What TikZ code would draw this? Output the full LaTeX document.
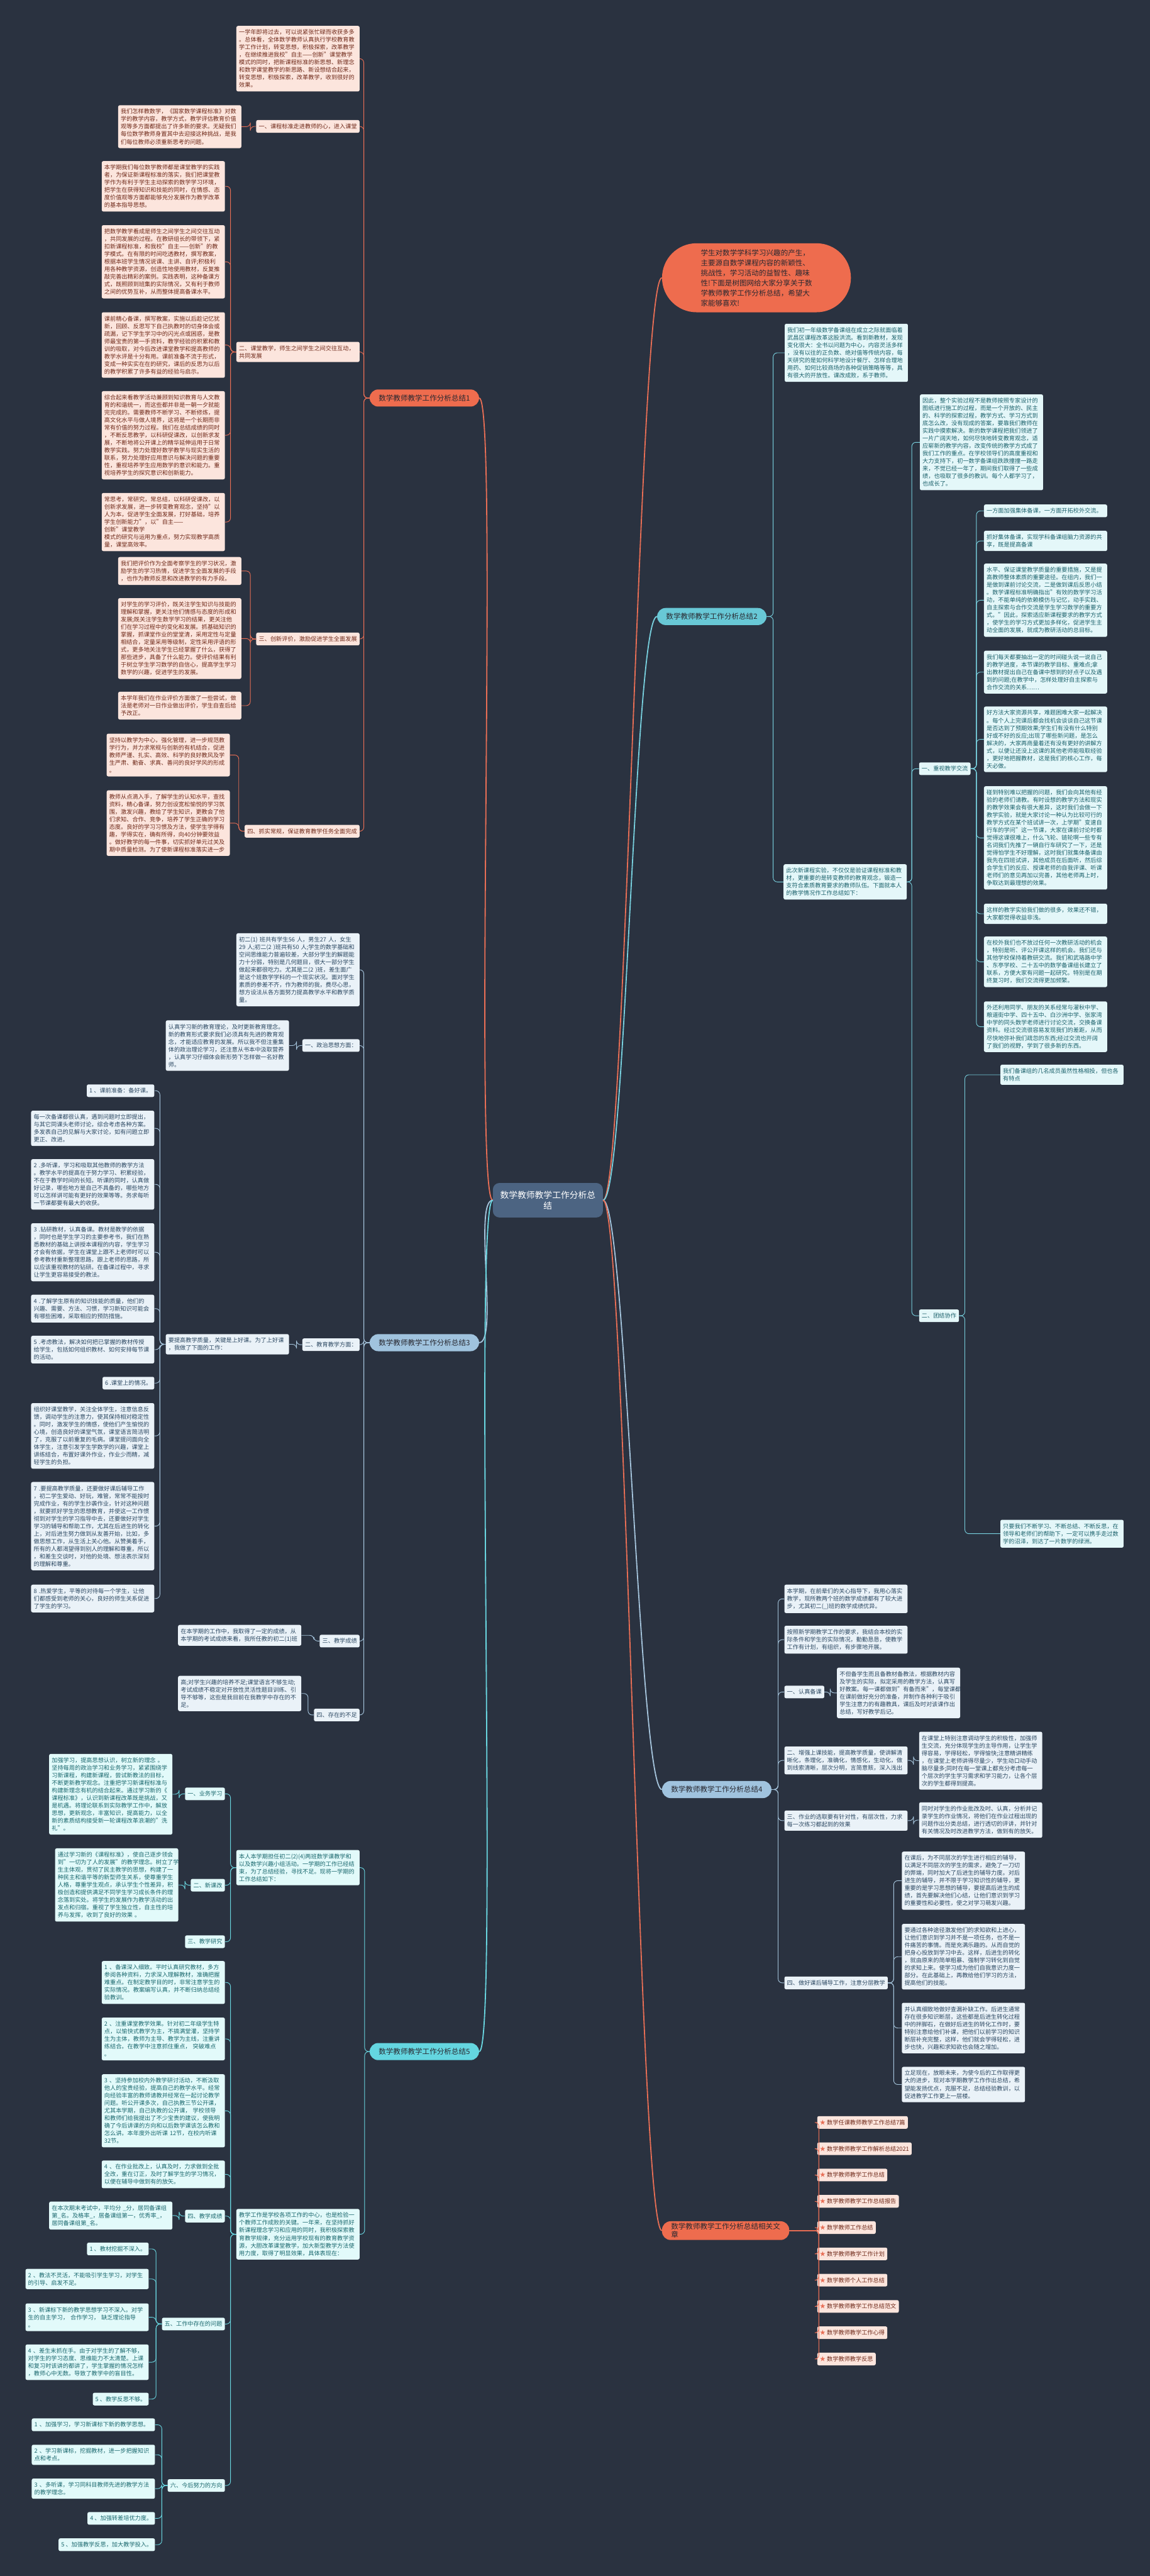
\documentclass[tikz,border=0pt]{standalone}
\usepackage{fontspec}
\setmainfont{Noto Sans CJK SC}
\definecolor{bg}{RGB}{42,50,64}
\definecolor{core}{RGB}{76,100,130}
\definecolor{redln}{RGB}{232,110,85}
\definecolor{redfill}{RGB}{238,108,78}
\definecolor{pkfill}{RGB}{252,229,221}
\definecolor{pktext}{RGB}{112,42,26}
\definecolor{tealln}{RGB}{120,208,222}
\definecolor{tealfill}{RGB}{228,247,249}
\definecolor{tealtext}{RGB}{28,98,108}
\definecolor{tealtitle}{RGB}{104,200,214}
\definecolor{steelln}{RGB}{165,196,220}
\definecolor{steelfill}{RGB}{234,242,248}
\definecolor{steeltext}{RGB}{44,72,98}
\definecolor{steeltitle}{RGB}{160,195,222}
\definecolor{cyanln}{RGB}{105,214,224}
\definecolor{cyanfill}{RGB}{226,250,250}
\definecolor{cyantext}{RGB}{26,104,110}
\definecolor{cyantitle}{RGB}{100,214,224}
\definecolor{titletext}{RGB}{40,40,48}
\tikzset{
  box/.style={rounded corners=1mm, align=left, inner xsep=1.6mm, inner ysep=2.2mm,
    font=\fontsize{10}{13.1}\selectfont},
  wide/.style={text width=71.8mm},
  L/.style={anchor=north east},
  R/.style={anchor=north west},
  pk/.style={box, fill=pkfill, text=pktext},
  tl/.style={box, fill=tealfill, text=tealtext},
  st/.style={box, fill=steelfill, text=steeltext},
  cy/.style={box, fill=cyanfill, text=cyantext},
  topic/.style={rounded corners=5.2mm, minimum height=10.4mm, inner xsep=5.5mm,
    font=\fontsize{12.6}{14}\selectfont, text=titletext, anchor=north west},
  ln/.style={line width=0.35mm, rounded corners=2.5mm},
  trunk/.style={line width=0.7mm},
}
\begin{document}
\begin{tikzpicture}[x=1mm, y=-1mm]
\fill[bg] (0,0) rectangle (700,1568);
\useasboundingbox (0,0) rectangle (700,1568);

% centre
\node[fill=core, text=white, rounded corners=4mm, align=center, minimum width=67mm,
  minimum height=21mm, font=\fontsize{15}{19}\selectfont, anchor=north west] (core) at (300,720)
  {数学教师教学工作分析总\\结};

% intro
\node[fill=redfill, rounded corners=21mm, minimum width=115mm, minimum height=42mm, align=left,
  text=titletext, font=\fontsize{12.6}{17.4}\selectfont, anchor=north west] (intro) at (403,148)
  {学生对数学学科学习兴趣的产生，\\主要源自数学课程内容的新颖性、\\挑战性，学习活动的益智性、趣味\\性!下面是树图网给大家分享关于数\\学教师教学工作分析总结，希望大\\家能够喜欢!};

% ---------- 1 ----------
\node[topic, fill=redfill] (t1) at (225,237) {数学教师教学工作分析总结1};
\node[pk, wide, L] (x0) at (219,15.7) {一学年即将过去，可以说紧张忙碌而收获多多\\。总体看，全体数学教师认真执行学校教育教\\学工作计划，转变思想，积极探索，改革教学\\，在继续推进我校"自主——创新"课堂教学\\模式的同时，把新课程标准的新思想、新理念\\和数学课堂教学的新思路、新设想结合起来，\\转变思想，积极探索，改革教学，收到很好的\\效果。};
\node[pk, L] (xA) at (219,73) {一、课程标准走进教师的心，进入课堂};
\node[pk, wide, L] (xA1) at (147,64) {我们怎样教数学，《国家数学课程标准》对数\\学的教学内容，教学方式，教学评估教育价值\\观等多方面都提出了许多新的要求。无疑我们\\每位数学教师身置其中去迎接这种挑战，是我\\们每位教师必须重新思考的问题。};
\node[pk, wide, L] (xB) at (219,208) {二、课堂教学，师生之间学生之间交往互动，\\共同发展};
\node[pk, wide, L] (xB1) at (137,98) {本学期我们每位数学教师都是课堂教学的实践\\者，为保证新课程标准的落实，我们把课堂教\\学作为有利于学生主动探索的数学学习环境，\\把学生在获得知识和技能的同时，在情感、态\\度价值观等方面都能够充分发展作为教学改革\\的基本指导思想。};
\node[pk, wide, L] (xB2) at (137,137) {把数学教学看成是师生之间学生之间交往互动\\，共同发展的过程。在教研组长的带领下，紧\\扣新课程标准，和我校"自主——创新"的教\\学模式。在有限的时间吃透教材，撰写教案，\\根据本班学生情况说课、主讲、自评;积极利\\用各种教学资源，创造性地使用教材，反复推\\敲完善出精彩的案例。实践表明，这种备课方\\式，既照顾到班集的实际情况，又有利于教师\\之间的优势互补，从而整体提高备课水平。};
\node[pk, wide, L] (xB3) at (137,190) {课前精心备课，撰写教案，实施以后趁记忆犹\\新，回顾、反思写下自己执教时的切身体会或\\疏漏，记下学生学习中的闪光点或困惑，是教\\师最宝贵的第一手资料，教学经验的积累和教\\训的吸取，对今后改进课堂教学和提高教师的\\教学水评是十分有用。课前准备不流于形式，\\变成一种实实在在的研究，课后的反思为以后\\的教学积累了许多有益的经验与启示。};
\node[pk, wide, L] (xB4) at (137,238) {综合起来看教学活动兼顾到知识教育与人文教\\育的和谐统一，而这些都并非是一朝一夕就能\\完完成的。需要教师不断学习、不断修炼，提\\高文化水平与做人境界，这将是一个长期而非\\常有价值的努力过程。我们在总结成绩的同时\\，不断反思教学，以科研促课改，以创新求发\\展，不断地将公开课上的精华延伸运用于日常\\教学实践。努力处理好数学教学与现实生活的\\联系，努力处理好应用意识与解决问题的重要\\性，重视培养学生应用数学的意识和能力。重\\视培养学生的探究意识和创新能力。};
\node[pk, wide, L] (xB5) at (137,300) {常思考，常研究，常总结，以科研促课改，以\\创新求发展，进一步转变教育观念，坚持"以\\人为本，促进学生全面发展，打好基础，培养\\学生创新能力"，以"自主——创新"课堂教学\\模式的研究与运用为重点，努力实现教学高质\\量，课堂高效率。};
\node[pk, L] (xC) at (219,385) {三、创新评价，激励促进学生全面发展};
\node[pk, wide, L] (xC1) at (147,339) {我们把评价作为全面考察学生的学习状况，激\\励学生的学习热情，促进学生全面发展的手段\\，也作为教师反思和改进教学的有力手段。};
\node[pk, wide, L] (xC2) at (147,364) {对学生的学习评价，既关注学生知识与技能的\\理解和掌握，更关注他们情感与态度的形成和\\发展;既关注学生数学学习的结果，更关注他\\们在学习过程中的变化和发展。抓基础知识的\\掌握，抓课堂作业的堂堂清，采用定性与定量\\相结合，定量采用等级制，定性采用评语的形\\式，更多地关注学生已经掌握了什么，获得了\\那些进步，具备了什么能力。使评价结果有利\\于树立学生学习数学的自信心，提高学生学习\\数学的兴趣，促进学生的发展。};
\node[pk, wide, L] (xC3) at (147,421) {本学年我们在作业评价方面做了一些尝试，做\\法是老师对一日作业做出评价，学生自查后给\\予改正。};
\node[pk, L] (xD) at (219,502) {四、抓实常规，保证教育教学任务全面完成};
\node[pk, wide, L] (xD1) at (140,446.5) {坚持以教学为中心，强化管理，进一步规范教\\学行为，并力求常规与创新的有机结合，促进\\教师严谨、扎实、高效、科学的良好教风及学\\生严肃、勤奋、求真、善问的良好学风的形成\\。};
\node[pk, wide, L] (xD2) at (140,481) {教师从点滴入手，了解学生的认知水平，查找\\资料，精心备课，努力创设宽松愉悦的学习氛\\围，激发兴趣，教给了学生知识，更教会了他\\们求知、合作、竞争，培养了学生正确的学习\\态度。良好的学习习惯及方法，使学生学得有\\趣，学得实在，确有所得，向40分钟要效益\\。做好教学的每一件事，切实抓好单元过关及\\期中质量检测。为了使新课程标准落实进一步};
\draw[trunk, redln] (core.west) .. controls +(-12,0) and +(12,0) .. (t1.east);
\foreach \n in {x0,xA,xB,xC,xD} \draw[ln, redln] (t1.west) -- ++(-3.5,0) |- (\n.east);
\draw[ln, redln] (xA.west) -- ++(-3.5,0) |- (xA1.east);
\foreach \n in {xB1,xB2,xB3,xB4,xB5} \draw[ln, redln] (xB.west) -- ++(-3.5,0) |- (\n.east);
\foreach \n in {xC1,xC2,xC3} \draw[ln, redln] (xC.west) -- ++(-3.5,0) |- (\n.east);
\foreach \n in {xD1,xD2} \draw[ln, redln] (xD.west) -- ++(-3.5,0) |- (\n.east);
\draw[trunk, redln] (core.east) .. controls +(14,0) and +(-14,0) .. (intro.west);

% ---------- 2 ----------
\node[topic, fill=tealtitle] (t2) at (400,370) {数学教师教学工作分析总结2};
\node[tl, wide, R] (y0) at (477.7,197) {我们初一年级数学备课组在成立之际就面临着\\武昌区课程改革这股洪流。看到新教材，发现\\变化很大：全书以问题为中心，内容灵活多样\\，没有以往的正负数、绝对值等传统内容，每\\天研究的是如何科学地设计餐厅、怎样合理地\\用药、如何比较商场的各种促销策略等等，具\\有很大的开放性。课改成败，系于教师。};
\node[tl, wide, R] (yP) at (477,526) {此次新课程实验，不仅仅是验证课程标准和教\\材，更重要的是转变教师的教育观念，锻造一\\支符合素质教育要求的教师队伍。下面就本人\\的教学情况作工作总结如下：};
\node[tl, wide, R] (yP0) at (560,240) {因此，整个实验过程不是教师按照专家设计的\\图纸进行施工的过程，而是一个开放的、民主\\的、科学的探索过程，教学方式、学习方式到\\底怎么改，没有现成的答案，要靠我们教师在\\实践中摸索解决。新的数学课程把我们领进了\\一片广阔天地，如何尽快地转变教育观念，适\\应崭新的教学内容，改变传统的教学方式成了\\我们工作的重点。在学校领导们的高度重视和\\大力支持下，初一数学备课组跌跌撞撞一路走\\来，不觉已经一年了，期间我们取得了一些成\\绩，也吸取了很多的教训。每个人都学习了，\\也成长了。};
\node[tl, R] (yA) at (559.5,464) {一、重视教学交流};
\node[tl, wide, R] (yA1) at (599,307) {一方面加强集体备课，一方面开拓校外交流。};
\node[tl, wide, R] (yA2) at (599,323) {抓好集体备课，实现学科备课组脑力资源的共\\享，既是提高备课};
\node[tl, wide, R] (yA3) at (599,343) {水平、保证课堂教学质量的重要措施，又是提\\高教师整体素质的重要途径。在组内，我们一\\是做到课前讨论交流，二是做到课后反思小结\\。数学课程标准明确指出"有效的数学学习活\\动，不能单纯的依赖模仿与记忆，动手实践、\\自主探索与合作交流是学生学习数学的重要方\\式。"因此，探索适应新课程要求的教学方式\\，使学生的学习方式更加多样化，促进学生主\\动全面的发展，就成为教研活动的总目标。};
\node[tl, wide, R] (yA4) at (599,396) {我们每天都要抽出一定的时间碰头说一说自己\\的教学进度，本节课的教学目标、重难点;拿\\出教材提出自己在备课中想到的好点子以及遇\\到的问题;在教学中，怎样处理好自主探索与\\合作交流的关系……};
\node[tl, wide, R] (yA5) at (599,430) {好方法大家资源共享，难题困难大家一起解决\\。每个人上完课后都会找机会谈谈自己这节课\\是否达到了预期效果;学生们有没有什么特别\\好或不好的反应;出现了哪些新问题，是怎么\\解决的，大家再商量着还有没有更好的讲解方\\式，以便让还没上这课的其他老师能吸取经验\\，更好地把握教材，这是我们的核心工作，每\\天必做。};
\node[tl, wide, R] (yA6) at (599,478.5) {碰到特别难以把握的问题，我们会向其他有经\\验的老师们请教。有时设想的教学方法和现实\\的教学效果会有很大差异，这时我们会做一下\\教学实验，就是大家讨论一种认为比较可行的\\教学方式在某个班试讲一次，上学期"变速自\\行车的学问"这一节课，大家在课前讨论时都\\觉得这课很难上，什么飞轮、链轮啊一些专有\\名词我们先推了一辆自行车研究了一下，还是\\觉得怕学生不好理解，这时我们就集体备课由\\我先在四班试讲，其他成员在后面听，然后综\\合学生们的反应、授课老师的自我评课、听课\\老师们的意见再加以完善，其他老师再上时，\\争取达到最理想的效果。};
\node[tl, wide, R] (yA7) at (599,550) {这样的教学实验我们做的很多，效果还不错，\\大家都觉得收益非浅。};
\node[tl, wide, R] (yA8) at (599,570) {在校外我们也不放过任何一次教研活动的机会\\，特别是听、评公开课这样的机会。我们还与\\其他学校保持着教研交流。我们和武珞路中学\\、东亭学校、二十五中的数学备课组长建立了\\联系，方便大家有问题一起研究。特别是在期\\终复习时，我们交流得更加频繁。};
\node[tl, wide, R] (yA9) at (599,609.5) {外还利用同学、朋友的关系经常与濯秋中学、\\粮道街中学、四十五中、白沙洲中学、张家湾\\中学的同头数学老师进行讨论交流，交换备课\\资料。经过交流很容易发现我们的差距，从而\\尽快地弥补我们疏忽的东西;经过交流也开阔\\了我们的视野，学到了很多新的东西。};
\node[tl, R] (yB) at (559.5,797) {二、团结协作};
\node[tl, wide, R] (yB1) at (609,648) {我们备课组的几名成员虽然性格相投，但也各\\有特点};
\node[tl, wide, R] (yB2) at (609,925) {只要我们不断学习、不断总结、不断反思，在\\领导和老师们的帮助下，一定可以携手走过数\\学的沼泽，到达了一片数学的绿洲。};
\draw[trunk, tealln] (core.east) .. controls +(14,0) and +(-14,0) .. (t2.west);
\foreach \n in {y0,yP} \draw[ln, tealln] (t2.east) -- ++(4,0) |- (\n.west);
\foreach \n in {yP0,yA,yB} \draw[ln, tealln] (yP.east) -- ++(3,0) |- (\n.west);
\foreach \n in {yA1,yA2,yA3,yA4,yA5,yA6,yA7,yA8,yA9} \draw[ln, tealln] (yA.east) -- ++(3.5,0) |- (\n.west);
\foreach \n in {yB1,yB2} \draw[ln, tealln] (yB.east) -- ++(3.5,0) |- (\n.west);

% ---------- 3 ----------
\node[topic, fill=steeltitle] (t3) at (225,812) {数学教师教学工作分析总结3};
\node[st, wide, L] (z0) at (219,568) {初二(1) 班共有学生56 人，男生27 人，女生\\29 人;初二(2 )班共有50 人;学生的数学基础和\\空间思维能力普遍较差，大部分学生的解题能\\力十分弱，特别是几何题目，很大一部分学生\\做起来都很吃力。尤其是二(2 )班，差生面广\\是这个班数学学科的一个现实状况。面对学生\\素质的参差不齐，作为教师的我，费尽心思，\\想方设法从各方面努力提高教学水平和教学质\\量。};
\node[st, L] (zA) at (219,632.5) {一、政治思想方面：};
\node[st, wide, L] (zA1) at (176,621) {认真学习新的教育理论，及时更新教育理念。\\新的教育形式要求我们必须具有先进的教育观\\念，才能适应教育的发展。所以我不但注重集\\体的政治理论学习，还注意从书本中汲取营养\\，认真学习仔细体会新形势下怎样做一名好教\\师。};
\node[st, L] (zB) at (219,814.6) {二、教育教学方面：};
\node[st, wide, L] (zB1) at (176,812) {要提高教学质量，关键是上好课。为了上好课\\，我做了下面的工作：};
\node[st, L] (zB1a) at (94,660) {1 、课前准备：备好课。};
\node[st, wide, L] (zB1b) at (94,676) {每一次备课都很认真，遇到问题时立即提出，\\与其它同课头老师讨论，综合考虑各种方案。\\多发表自己的见解与大家讨论，如有问题立即\\更正、改进。};
\node[st, wide, L] (zB1c) at (94,705.5) {2 .多听课，学习和吸取其他教师的教学方法\\。教学水平的提高在于努力学习、积累经验，\\不在于教学时间的长短。听课的同时，认真做\\好记录，哪些地方是自己不具备的，哪些地方\\可以怎样讲可能有更好的效果等等。务求每听\\一节课都要有最大的收获。};
\node[st, wide, L] (zB1d) at (94,744.5) {3 .钻研教材，认真备课。教材是教学的依据\\，同时也是学生学习的主要参考书，我们在熟\\悉教材的基础上讲授本课程的内容，学生学习\\才会有依据，学生在课堂上跟不上老师时可以\\参考教材重新整理思路，跟上老师的思路，所\\以应该重视教材的钻研。在备课过程中，寻求\\让学生更容易接受的教法。};
\node[st, wide, L] (zB1e) at (94,788) {4 .了解学生原有的知识技能的质量，他们的\\兴趣、需要、方法、习惯，学习新知识可能会\\有哪些困难，采取相应的预防措施。};
\node[st, wide, L] (zB1f) at (94,813) {5 .考虑教法，解决如何把已掌握的教材传授\\给学生，包括如何组织教材、如何安排每节课\\的活动。};
\node[st, L] (zB1g) at (94,838) {6 .课堂上的情况。};
\node[st, wide, L] (zB1h) at (94,854) {组织好课堂教学，关注全体学生，注意信息反\\馈，调动学生的注意力，使其保持相对稳定性\\。同时，激发学生的情感，使他们产生愉悦的\\心境，创造良好的课堂气氛，课堂语言简洁明\\了，克服了以前重复的毛病。课堂提问面向全\\体学生，注意引发学生学数学的兴趣，课堂上\\讲练结合，布置好课外作业，作业少而精，减\\轻学生的负担。};
\node[st, wide, L] (zB1i) at (94,902) {7 .要提高教学质量，还要做好课后辅导工作\\，初二学生爱动、好玩，难管，常常不能按时\\完成作业，有的学生抄袭作业，针对这种问题\\，就要抓好学生的思想教育，并使这一工作惯\\彻到对学生的学习指导中去，还要做好对学生\\学习的辅导和帮助工作，尤其在后进生的转化\\上，对后进生努力做到从友善开始，比如，多\\做思想工作，从生活上关心他。从赞美着手，\\所有的人都渴望得到别人的理解和尊重，所以\\，和差生交谈时，对他的处境、想法表示深刻\\的理解和尊重。};
\node[st, wide, L] (zB1j) at (94,964.5) {8 .热爱学生，平等的对待每一个学生，让他\\们都感受到老师的关心，良好的师生关系促进\\了学生的学习。};
\node[st, L] (zC) at (219,995) {三、教学成绩};
\node[st, wide, L] (zC1) at (183.5,989) {在本学期的工作中，我取得了一定的成绩，从\\本学期的考试成绩来看，我所任教的初二(1)班};
\node[st, L] (zD) at (219,1040) {四、存在的不足};
\node[st, wide, L] (zD1) at (183.5,1020) {高;对学生兴趣的培养不足;课堂语言不够生动;\\考试成绩不稳定对开放性灵活性题目训练、引\\导不够等，这些是我目前在我教学中存在的不\\足。};
\draw[trunk, steelln] (core.west) .. controls +(-12,0) and +(12,0) .. (t3.east);
\foreach \n in {z0,zA,zB,zC,zD} \draw[ln, steelln] (t3.west) -- ++(-3.5,0) |- (\n.east);
\draw[ln, steelln] (zA.west) -- ++(-3.5,0) |- (zA1.east);
\draw[ln, steelln] (zB.west) -- ++(-3.5,0) |- (zB1.east);
\foreach \n in {zB1a,zB1b,zB1c,zB1d,zB1e,zB1f,zB1g,zB1h,zB1i,zB1j} \draw[ln, steelln] (zB1.west) -- ++(-3.5,0) |- (\n.east);
\draw[ln, steelln] (zC.west) -- ++(-3.5,0) |- (zC1.east);
\draw[ln, steelln] (zD.west) -- ++(-3.5,0) |- (zD1.east);

% ---------- 4 ----------
\node[topic, fill=steeltitle] (t4) at (403,1084) {数学教师教学工作分析总结4};
\node[st, wide, R] (w1) at (477.5,964.5) {本学期，在前辈们的关心指导下，我用心落实\\教学，现所教两个班的数学成绩都有了较大进\\步，尤其初二(\_)班的数学成绩优异。};
\node[st, wide, R] (w2) at (477.5,989.5) {按照新学期教学工作的要求，我结合本校的实\\际条件和学生的实际情况，勤勤恳恳，使教学\\工作有计划，有组织，有步骤地开展。};
\node[st, R] (wA) at (477.5,1026) {一、认真备课};
\node[st, wide, R] (wA1) at (509.5,1015) {不但备学生而且备教材备教法，根据教材内容\\及学生的实际，拟定采用的教学方法，认真写\\好教案。每一课都做到"有备而来"，每堂课都\\在课前做好充分的准备，并制作各种利于吸引\\学生注意力的有趣教具，课后及时对该课作出\\总结，写好教学后记。};
\node[st, wide, R] (wB) at (477.5,1063) {二、增强上课技能，提高教学质量，使讲解清\\晰化，条理化，准确化，情感化，生动化，做\\到线索清晰，层次分明，言简意赅，深入浅出};
\node[st, wide, R] (wB1) at (559.5,1054) {在课堂上特别注意调动学生的积极性，加强师\\生交流，充分体现学生的主导作用，让学生学\\得容易，学得轻松，学得愉快;注意精讲精练\\，在课堂上老师讲得尽量少，学生动口动手动\\脑尽量多;同时在每一堂课上都充分考虑每一\\个层次的学生学习需求和学习能力，让各个层\\次的学生都得到提高。};
\node[st, wide, R] (wC) at (477.5,1102) {三、作业的选取要有针对性，有层次性，力求\\每一次练习都起到的效果};
\node[st, wide, R] (wC1) at (559.5,1097) {同时对学生的作业批改及时、认真，分析并记\\录学生的作业情况，将他们在作业过程出现的\\问题作出分类总结，进行透切的评讲，并针对\\有关情况及时改进教学方法，做到有的放矢。};
\node[st, R] (wD) at (477.5,1203) {四、做好课后辅导工作，注意分层教学};
\node[st, wide, R] (wD1) at (549,1127) {在课后，为不同层次的学生进行相应的辅导，\\以满足不同层次的学生的需求，避免了一刀切\\的弊端，同时加大了后进生的辅导力度。对后\\进生的辅导，并不限于学习知识性的辅导，更\\重要的是学习思想的辅导，要提高后进生的成\\绩，首先要解决他们心结，让他们意识到学习\\的重要性和必要性，使之对学习萌发兴趣。};
\node[st, wide, R] (wD2) at (549,1171) {要通过各种途径激发他们的求知欲和上进心，\\让他们意识到学习并不是一项任务，也不是一\\件痛苦的事情。而是充满乐趣的。从而自觉的\\把身心投放到学习中去。这样，后进生的转化\\，就由原来的简单粗暴、强制学习转化到自觉\\的求知上来。使学习成为他们自我意识力度一\\部分。在此基础上，再教给他们学习的方法，\\提高他们的技能。};
\node[st, wide, R] (wD3) at (549,1219) {并认真细致地做好查漏补缺工作。后进生通常\\存在很多知识断层，这些都是后进生转化过程\\中的拌脚石，在做好后进生的转化工作时，要\\特别注意给他们补课，把他们以前学习的知识\\断层补充完整，这样，他们就会学得轻松，进\\步也快，兴趣和求知欲也会随之增加。};
\node[st, wide, R] (wD4) at (549,1258) {立足现在，放眼未来，为使今后的工作取得更\\大的进步，现对本学期教学工作作出总结，希\\望能发扬优点，克服不足，总结经验教训，以\\促进教学工作更上一层楼。};
\draw[trunk, steelln] (core.east) .. controls +(14,0) and +(-14,0) .. (t4.west);
\foreach \n in {w1,w2,wA,wB,wC,wD} \draw[ln, steelln] (t4.east) -- ++(4,0) |- (\n.west);
\draw[ln, steelln] (wA.east) -- ++(3.5,0) |- (wA1.west);
\draw[ln, steelln] (wB.east) -- ++(3.5,0) |- (wB1.west);
\draw[ln, steelln] (wC.east) -- ++(3.5,0) |- (wC1.west);
\foreach \n in {wD1,wD2,wD3,wD4} \draw[ln, steelln] (wD.east) -- ++(3.5,0) |- (\n.west);

% ---------- 5 ----------
\node[topic, fill=cyantitle] (t5) at (225,1243.5) {数学教师教学工作分析总结5};
\node[cy, wide, L] (v1) at (219,1126) {本人本学期担任初二(2)(4)两班数学课教学和\\以及数学兴趣小组活动。一学期的工作已经结\\束，为了总结经验，寻找不足。现将一学期的\\工作总结如下：};
\node[cy, L] (vA) at (137,1088) {一、业务学习};
\node[cy, wide, L] (vA1) at (105,1067.5) {加强学习，提高思想认识，树立新的理念 。\\坚持每周的政治学习和业务学习，紧紧围绕学\\习新课程，构建新课程，尝试新教法的目标，\\不断更新教学观念。注重把学习新课程标准与\\构建新理念有机的结合起来。通过学习新的《\\课程标准》，认识到新课程改革既是挑战，又\\是机遇。将理论联系到实际教学工作中，解放\\思想，更新观念，丰富知识，提高能力，以全\\新的素质结构接受新一轮课程改革浪潮的"洗\\礼"。};
\node[cy, L] (vB) at (137,1143.6) {二、新课改};
\node[cy, wide, L] (vB1) at (108.6,1125) {通过学习新的《课程标准》，使自己逐步领会\\到"一切为了人的发展"的教学理念。树立了学\\生主体观，贯彻了民主教学的思想，构建了一\\种民主和谐平等的新型师生关系，使尊重学生\\人格，尊重学生观点，承认学生个性差异，积\\极创造和提供满足不同学生学习成长条件的理\\念落到实处。将学生的发展作为教学活动的出\\发点和归宿。重视了学生独立性，自主性的培\\养与发挥，收到了良好的效果 。};
\node[cy, L] (vC) at (137,1178) {三、教学研究};
\node[cy, wide, L] (v2) at (219,1344.5) {教学工作是学校各项工作的中心，也是检验一\\个教师工作成败的关键。一年来，在坚持抓好\\新课程理念学习和应用的同时，我积极探索教\\育教学规律，充分运用学校现有的教育教学资\\源，大胆改革课堂教学，加大新型教学方法使\\用力度，取得了明显效果，具体表现在：};
\node[cy, wide, L] (v2a) at (137,1193.6) {1 、备课深入细致。平时认真研究教材，多方\\参阅各种资料，力求深入理解教材，准确把握\\难重点。在制定教学目的时，非常注意学生的\\实际情况。教案编写认真，并不断归纳总结经\\验教训。};
\node[cy, wide, L] (v2b) at (137,1228) {2 、注重课堂教学效果。针对初二年级学生特\\点，以愉快式教学为主，不搞满堂灌，坚持学\\生为主体，教师为主导、教学为主线，注重讲\\练结合。在教学中注意抓住重点， 突破难点\\。};
\node[cy, wide, L] (v2c) at (137,1262.5) {3 、坚持参加校内外教学研讨活动，不断汲取\\他人的宝贵经验，提高自己的教学水平。经常\\向经验丰富的教师请教并经常在一起讨论教学\\问题。听公开课多次，自己执教三节公开课，\\尤其本学期，自己执教的公开课， 学校领导\\和教师们给我提出了不少宝贵的建议，使我明\\确了今后讲课的方向和以后数学课该怎么教和\\怎么讲。本年度外出听课 12节，在校内听课\\32节。};
\node[cy, wide, L] (v2d) at (137,1315) {4 、在作业批改上，认真及时，力求做到全批\\全改，重在订正，及时了解学生的学习情况，\\以便在辅导中做到有的放矢。};
\node[cy, L] (vD) at (137,1345) {四、教学成绩};
\node[cy, wide, L] (vD1) at (105,1340) {在本次期末考试中，平均分 \_分，居同备课组\\第\_名。及格率\_，居备课组第一，优秀率\_，\\居同备课组第\_名。};
\node[cy, L] (vE) at (137,1410.7) {五、工作中存在的问题};
\node[cy, L] (vE1) at (90.6,1365) {1 、教材挖掘不深入。};
\node[cy, wide, L] (vE2) at (90.6,1381) {2 、教法不灵活，不能吸引学生学习，对学生\\的引导、启发不足。};
\node[cy, wide, L] (vE3) at (90.6,1402) {3 、新课标下新的教学思想学习不深入。对学\\生的自主学习， 合作学习， 缺乏理论指导\\。};
\node[cy, wide, L] (vE4) at (90.6,1427) {4 、差生末抓在手。由于对学生的了解不够，\\对学生的学习态度、思维能力不太清楚。上课\\和复习时该讲的都讲了，学生掌握的情况怎样\\，教师心中无数。导致了教学中的盲目性。};
\node[cy, L] (vE5) at (90.6,1456.4) {5 、教学反思不够。};
\node[cy, L] (vF) at (137,1509) {六、今后努力的方向};
\node[cy, wide, L] (vF1) at (94.4,1472) {1 、加强学习，学习新课标下新的教学思想。};
\node[cy, wide, L] (vF2) at (94.4,1488) {2 、学习新课标，挖掘教材，进一步把握知识\\点和考点。};
\node[cy, wide, L] (vF3) at (94.4,1508.6) {3 、多听课，学习同科目教师先进的教学方法\\的教学理念。};
\node[cy, L] (vF4) at (94.4,1529) {4 、加强转差培优力度。};
\node[cy, L] (vF5) at (94.4,1545) {5 、加强教学反思，加大教学投入。};
\draw[trunk, cyanln] (core.west) .. controls +(-12,0) and +(12,0) .. (t5.east);
\foreach \n in {v1,v2} \draw[ln, cyanln] (t5.west) -- ++(-3,0) |- (\n.east);
\foreach \n in {vA,vB,vC} \draw[ln, cyanln] (v1.west) -- ++(-3.5,0) |- (\n.east);
\draw[ln, cyanln] (vA.west) -- ++(-3.5,0) |- (vA1.east);
\draw[ln, cyanln] (vB.west) -- ++(-3.5,0) |- (vB1.east);
\foreach \n in {v2a,v2b,v2c,v2d,vD,vE,vF} \draw[ln, cyanln] (v2.west) -- ++(-3.5,0) |- (\n.east);
\draw[ln, cyanln] (vD.west) -- ++(-3.5,0) |- (vD1.east);
\foreach \n in {vE1,vE2,vE3,vE4,vE5} \draw[ln, cyanln] (vE.west) -- ++(-3.5,0) |- (\n.east);
\foreach \n in {vF1,vF2,vF3,vF4,vF5} \draw[ln, cyanln] (vF.west) -- ++(-3.5,0) |- (\n.east);

% ---------- related ----------
\node[topic, fill=redfill, align=left] (t6) at (403,1352) {数学教师教学工作分析总结相关文\\章};
\foreach \i/\s in {1/数学任课教师教学工作总结7篇, 2/数学教师教学工作解析总结2021, 3/数学教师教学工作总结, 4/数学教师教学工作总结报告, 5/数学教师工作总结, 6/数学教师教学工作计划, 7/数学教师个人工作总结, 8/数学教师教学工作总结范文, 9/数学教师教学工作心得, 10/数学教师教学反思}
  \node[pk, R] (r\i) at (497.5,1272+16*\i) {\textcolor{redln}{★} \s};
\draw[trunk, redln] (core.east) .. controls +(14,0) and +(-14,0) .. (t6.west);
\foreach \i in {1,...,10} \draw[ln, redln] (t6.east) -- ++(18,0) |- (r\i.west);
\end{tikzpicture}
\end{document}
